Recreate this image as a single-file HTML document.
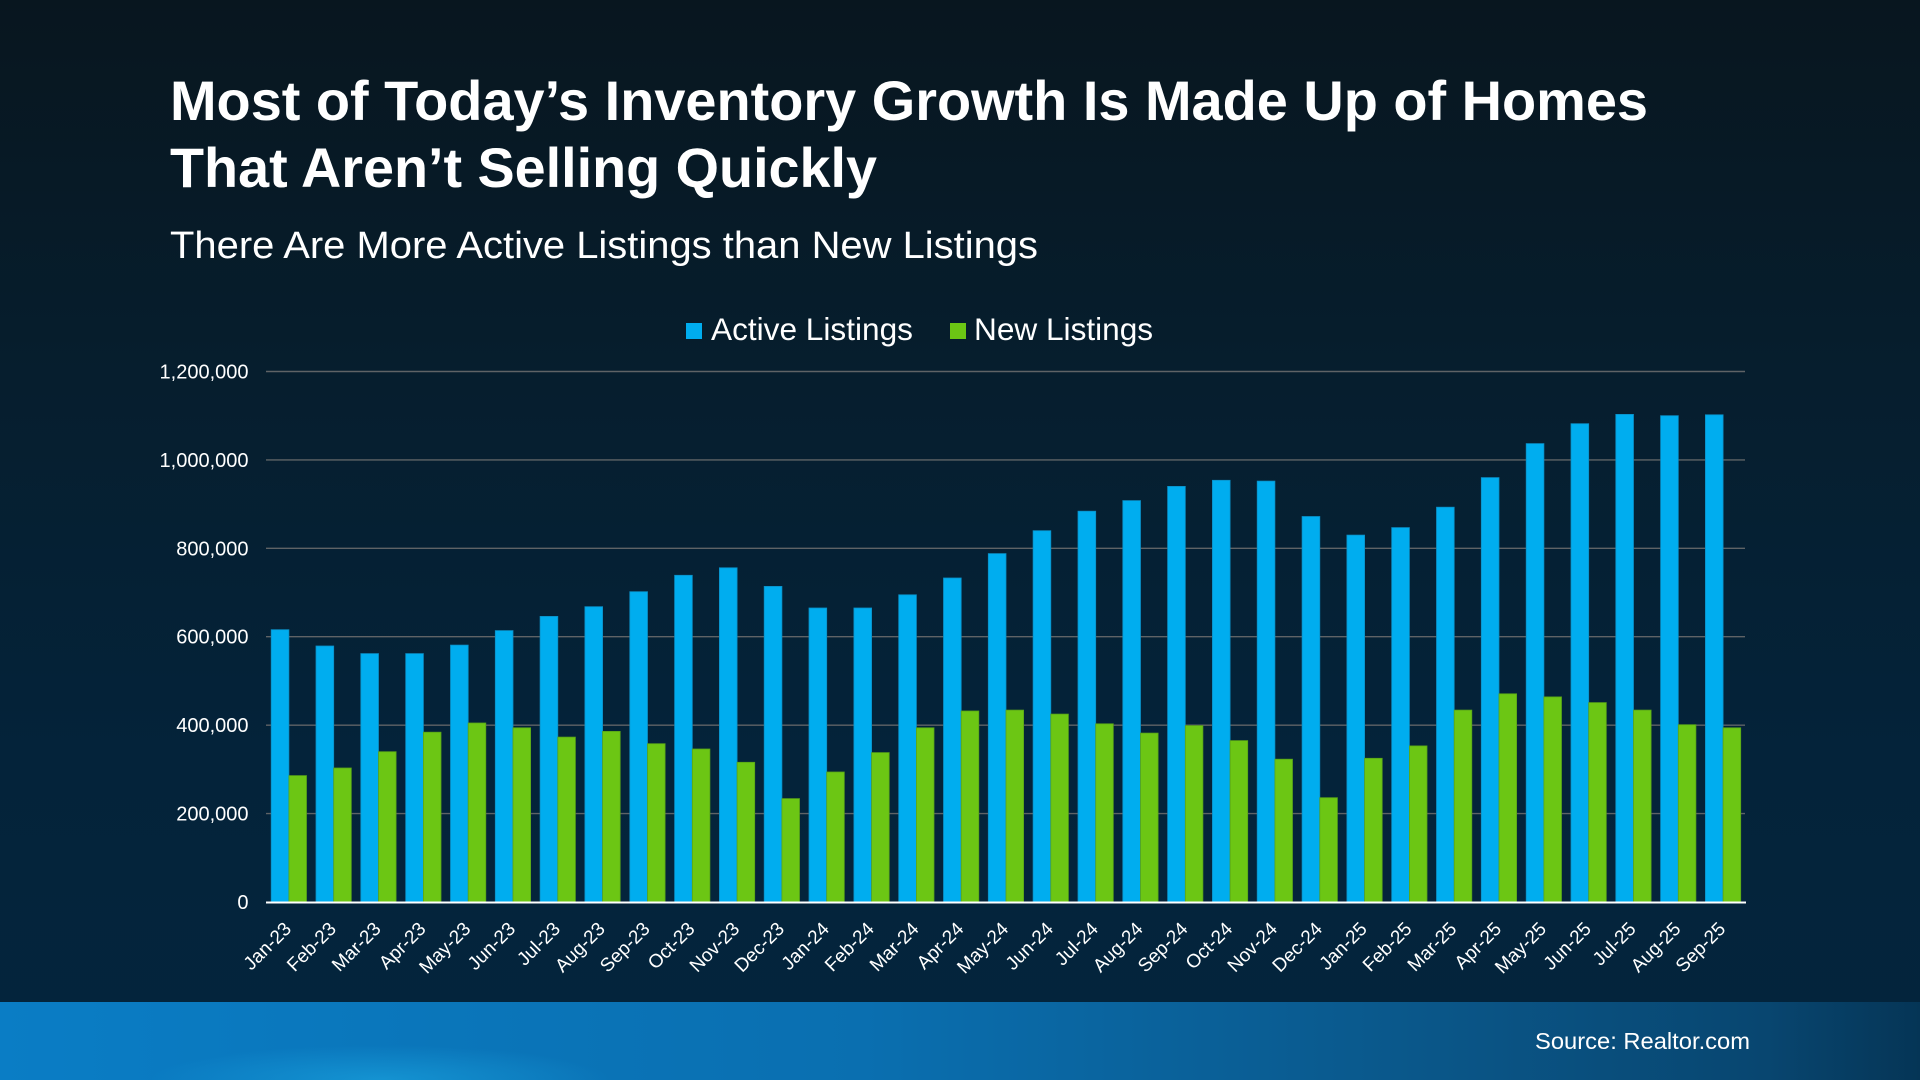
<!DOCTYPE html>
<html>
<head>
<meta charset="utf-8">
<style>
  html,body{margin:0;padding:0;width:1920px;height:1080px;overflow:hidden;background:#05203a;}
  svg{display:block;}
  text{font-family:"Liberation Sans", Arial, sans-serif;fill:#ffffff;}
</style>
</head>
<body>
<svg width="1920" height="1080" viewBox="0 0 1920 1080" xmlns="http://www.w3.org/2000/svg">
  <defs>
    <linearGradient id="bg" x1="0" y1="0" x2="0" y2="1">
      <stop offset="0" stop-color="#08161f"/>
      <stop offset="0.35" stop-color="#061e2e"/>
      <stop offset="0.7" stop-color="#04233a"/>
      <stop offset="1" stop-color="#03253d"/>
    </linearGradient>
    <linearGradient id="band" x1="0" y1="0" x2="1" y2="0">
      <stop offset="0" stop-color="#0a7dc5"/>
      <stop offset="0.45" stop-color="#0a6fb0"/>
      <stop offset="0.75" stop-color="#0a5688"/>
      <stop offset="0.92" stop-color="#084670"/>
      <stop offset="1" stop-color="#053556"/>
    </linearGradient>
    <radialGradient id="glow" cx="0.5" cy="1" r="0.5">
      <stop offset="0" stop-color="#1fb0e8" stop-opacity="0.7"/>
      <stop offset="1" stop-color="#1fb0e8" stop-opacity="0"/>
    </radialGradient>
    <clipPath id="frame"><rect x="0" y="0" width="1920" height="1080"/></clipPath>
  </defs>

  <g clip-path="url(#frame)">
  <rect x="0" y="0" width="1920" height="1080" fill="url(#bg)"/>

  <!-- Title -->
  <text x="170" y="120" font-size="56" font-weight="bold" textLength="1478" lengthAdjust="spacingAndGlyphs">Most of Today’s Inventory Growth Is Made Up of Homes</text>
  <text x="170" y="187" font-size="56" font-weight="bold" textLength="707" lengthAdjust="spacingAndGlyphs">That Aren’t Selling Quickly</text>
  <text x="170" y="258" font-size="38" textLength="868" lengthAdjust="spacingAndGlyphs">There Are More Active Listings than New Listings</text>

  <!-- Legend -->
  <rect x="686" y="323" width="16" height="16" fill="#00adef"/>
  <text x="711" y="340" font-size="31.6">Active Listings</text>
  <rect x="950" y="323" width="16" height="16" fill="#6cc614"/>
  <text x="974" y="340" font-size="31.6">New Listings</text>

  <!-- Gridlines -->
  <g stroke="#5f6366" stroke-width="1.4">
    <line x1="266" y1="371.5" x2="1745" y2="371.5"/>
    <line x1="266" y1="459.9" x2="1745" y2="459.9"/>
    <line x1="266" y1="548.3" x2="1745" y2="548.3"/>
    <line x1="266" y1="636.7" x2="1745" y2="636.7"/>
    <line x1="266" y1="725.2" x2="1745" y2="725.2"/>
    <line x1="266" y1="813.6" x2="1745" y2="813.6"/>
  </g>

  <!-- Y labels -->
  <g font-size="20" text-anchor="end">
    <text x="248.5" y="378.5">1,200,000</text>
    <text x="248.5" y="466.9">1,000,000</text>
    <text x="248.5" y="555.3">800,000</text>
    <text x="248.5" y="643.7">600,000</text>
    <text x="248.5" y="732.2">400,000</text>
    <text x="248.5" y="820.6">200,000</text>
    <text x="248.5" y="909">0</text>
  </g>

  <!-- Active bars -->
  <g fill="#00adef" stroke="#0b8fc6" stroke-width="0.8">
    <rect x="271.2" y="629.7" width="17.7" height="272.3"/>
    <rect x="316.0" y="646.0" width="17.7" height="256.0"/>
    <rect x="360.8" y="653.6" width="17.7" height="248.4"/>
    <rect x="405.7" y="653.6" width="17.7" height="248.4"/>
    <rect x="450.5" y="645.1" width="17.7" height="256.9"/>
    <rect x="495.3" y="630.6" width="17.7" height="271.4"/>
    <rect x="540.1" y="616.4" width="17.7" height="285.6"/>
    <rect x="584.9" y="606.7" width="17.7" height="295.3"/>
    <rect x="629.8" y="591.7" width="17.7" height="310.3"/>
    <rect x="674.6" y="575.3" width="17.7" height="326.7"/>
    <rect x="719.4" y="567.8" width="17.7" height="334.2"/>
    <rect x="764.2" y="586.4" width="17.7" height="315.6"/>
    <rect x="809.0" y="608.0" width="17.7" height="294.0"/>
    <rect x="853.9" y="608.0" width="17.7" height="294.0"/>
    <rect x="898.7" y="594.8" width="17.7" height="307.2"/>
    <rect x="943.5" y="578.0" width="17.7" height="324.0"/>
    <rect x="988.3" y="553.6" width="17.7" height="348.4"/>
    <rect x="1033.1" y="530.7" width="17.7" height="371.3"/>
    <rect x="1078.0" y="511.2" width="17.7" height="390.8"/>
    <rect x="1122.8" y="500.6" width="17.7" height="401.4"/>
    <rect x="1167.6" y="486.4" width="17.7" height="415.6"/>
    <rect x="1212.4" y="480.3" width="17.7" height="421.7"/>
    <rect x="1257.2" y="481.1" width="17.7" height="420.9"/>
    <rect x="1302.1" y="516.5" width="17.7" height="385.5"/>
    <rect x="1346.9" y="535.1" width="17.7" height="366.9"/>
    <rect x="1391.7" y="527.6" width="17.7" height="374.4"/>
    <rect x="1436.5" y="507.2" width="17.7" height="394.8"/>
    <rect x="1481.3" y="477.6" width="17.7" height="424.4"/>
    <rect x="1526.2" y="443.6" width="17.7" height="458.4"/>
    <rect x="1571.0" y="423.7" width="17.7" height="478.3"/>
    <rect x="1615.8" y="414.4" width="17.7" height="487.6"/>
    <rect x="1660.6" y="415.7" width="17.7" height="486.3"/>
    <rect x="1705.4" y="414.8" width="17.7" height="487.2"/>
  </g>

  <!-- New bars -->
  <g fill="#6cc614" stroke="#58a318" stroke-width="0.8">
    <rect x="288.9" y="775.6" width="17.6" height="126.4"/>
    <rect x="333.7" y="768.0" width="17.6" height="134.0"/>
    <rect x="378.5" y="751.7" width="17.6" height="150.3"/>
    <rect x="423.4" y="732.2" width="17.6" height="169.8"/>
    <rect x="468.2" y="723.0" width="17.6" height="179.0"/>
    <rect x="513.0" y="727.8" width="17.6" height="174.2"/>
    <rect x="557.8" y="737.1" width="17.6" height="164.9"/>
    <rect x="602.6" y="731.4" width="17.6" height="170.6"/>
    <rect x="647.5" y="743.7" width="17.6" height="158.3"/>
    <rect x="692.3" y="749.0" width="17.6" height="153.0"/>
    <rect x="737.1" y="762.3" width="17.6" height="139.7"/>
    <rect x="781.9" y="798.6" width="17.6" height="103.4"/>
    <rect x="826.7" y="772.0" width="17.6" height="130.0"/>
    <rect x="871.6" y="752.6" width="17.6" height="149.4"/>
    <rect x="916.4" y="727.8" width="17.6" height="174.2"/>
    <rect x="961.2" y="711.0" width="17.6" height="191.0"/>
    <rect x="1006.0" y="710.1" width="17.6" height="191.9"/>
    <rect x="1050.8" y="714.1" width="17.6" height="187.9"/>
    <rect x="1095.7" y="723.8" width="17.6" height="178.2"/>
    <rect x="1140.5" y="733.1" width="17.6" height="168.9"/>
    <rect x="1185.3" y="725.6" width="17.6" height="176.4"/>
    <rect x="1230.1" y="740.6" width="17.6" height="161.4"/>
    <rect x="1274.9" y="759.2" width="17.6" height="142.8"/>
    <rect x="1319.8" y="797.7" width="17.6" height="104.3"/>
    <rect x="1364.6" y="758.3" width="17.6" height="143.7"/>
    <rect x="1409.4" y="745.9" width="17.6" height="156.1"/>
    <rect x="1454.2" y="710.1" width="17.6" height="191.9"/>
    <rect x="1499.0" y="693.8" width="17.6" height="208.2"/>
    <rect x="1543.9" y="696.9" width="17.6" height="205.1"/>
    <rect x="1588.7" y="702.6" width="17.6" height="199.4"/>
    <rect x="1633.5" y="710.1" width="17.6" height="191.9"/>
    <rect x="1678.3" y="724.7" width="17.6" height="177.3"/>
    <rect x="1723.1" y="727.8" width="17.6" height="174.2"/>
  </g>

  <!-- Axis line -->
  <line x1="266" y1="902.5" x2="1746" y2="902.5" stroke="#ffffff" stroke-width="2"/>

  <!-- X labels -->
  <g font-size="19" text-anchor="end">
    <text transform="translate(292.4,930) rotate(-45)">Jan-23</text>
    <text transform="translate(337.2,930) rotate(-45)">Feb-23</text>
    <text transform="translate(382.0,930) rotate(-45)">Mar-23</text>
    <text transform="translate(426.9,930) rotate(-45)">Apr-23</text>
    <text transform="translate(471.7,930) rotate(-45)">May-23</text>
    <text transform="translate(516.5,930) rotate(-45)">Jun-23</text>
    <text transform="translate(561.3,930) rotate(-45)">Jul-23</text>
    <text transform="translate(606.1,930) rotate(-45)">Aug-23</text>
    <text transform="translate(651.0,930) rotate(-45)">Sep-23</text>
    <text transform="translate(695.8,930) rotate(-45)">Oct-23</text>
    <text transform="translate(740.6,930) rotate(-45)">Nov-23</text>
    <text transform="translate(785.4,930) rotate(-45)">Dec-23</text>
    <text transform="translate(830.2,930) rotate(-45)">Jan-24</text>
    <text transform="translate(875.1,930) rotate(-45)">Feb-24</text>
    <text transform="translate(919.9,930) rotate(-45)">Mar-24</text>
    <text transform="translate(964.7,930) rotate(-45)">Apr-24</text>
    <text transform="translate(1009.5,930) rotate(-45)">May-24</text>
    <text transform="translate(1054.3,930) rotate(-45)">Jun-24</text>
    <text transform="translate(1099.2,930) rotate(-45)">Jul-24</text>
    <text transform="translate(1144.0,930) rotate(-45)">Aug-24</text>
    <text transform="translate(1188.8,930) rotate(-45)">Sep-24</text>
    <text transform="translate(1233.6,930) rotate(-45)">Oct-24</text>
    <text transform="translate(1278.4,930) rotate(-45)">Nov-24</text>
    <text transform="translate(1323.3,930) rotate(-45)">Dec-24</text>
    <text transform="translate(1368.1,930) rotate(-45)">Jan-25</text>
    <text transform="translate(1412.9,930) rotate(-45)">Feb-25</text>
    <text transform="translate(1457.7,930) rotate(-45)">Mar-25</text>
    <text transform="translate(1502.5,930) rotate(-45)">Apr-25</text>
    <text transform="translate(1547.4,930) rotate(-45)">May-25</text>
    <text transform="translate(1592.2,930) rotate(-45)">Jun-25</text>
    <text transform="translate(1637.0,930) rotate(-45)">Jul-25</text>
    <text transform="translate(1681.8,930) rotate(-45)">Aug-25</text>
    <text transform="translate(1726.6,930) rotate(-45)">Sep-25</text>
  </g>

  <!-- Bottom band -->
  <rect x="0" y="1002" width="1920" height="78" fill="url(#band)"/>
  <rect x="150" y="1010" width="460" height="70" fill="url(#glow)" opacity="0.7"/>
  <text x="1535" y="1049" font-size="23.5" textLength="215" lengthAdjust="spacingAndGlyphs">Source: Realtor.com</text>
  </g>
</svg>
</body>
</html>
